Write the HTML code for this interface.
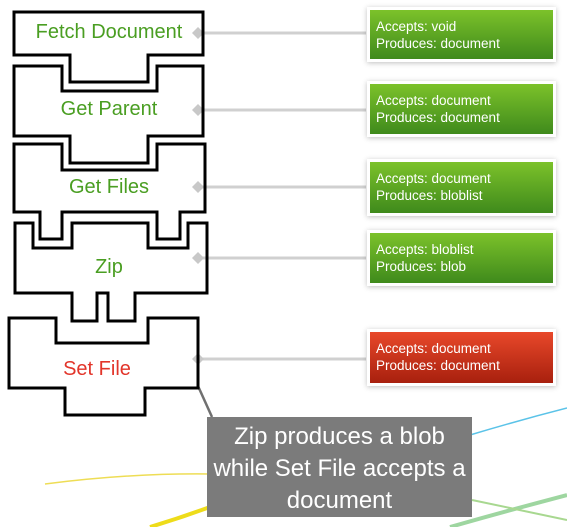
<!DOCTYPE html>
<html><head><meta charset="utf-8"><style>
html,body{margin:0;padding:0;background:#fff;width:567px;height:527px;overflow:hidden;position:relative;font-family:"Liberation Sans",sans-serif}
.t{position:absolute;font-size:20px;text-align:center;color:#4a9e22;width:190px}
.b{position:absolute;left:370px;width:183px;box-sizing:border-box;padding:8px 0 0 6px;font-size:13.5px;line-height:17px;color:#fff;background:linear-gradient(#7cc22a,#3f8a1c);box-shadow:0 0 0 3px #fff,0 1px 5px 3px rgba(0,0,0,.25)}
.r{background:linear-gradient(#e8482a,#a8200e)}
.c{position:absolute;left:207px;top:417px;width:265px;height:100px;background:#7b7b7b;color:#fff;font-size:24px;line-height:32px;text-align:center;padding-top:4px;box-sizing:border-box}
</style></head><body>
<svg width="567" height="527" style="position:absolute;left:0;top:0">
<path d="M470 435 Q520 420 567 408" stroke="#5bc3e8" stroke-width="1.5" fill="none"/>
<path d="M45 484 Q130 473 210 474" stroke="#eedd55" stroke-width="1.5" fill="none"/>
<path d="M150 527 Q180 518 210 507" stroke="#eedc1a" stroke-width="4" fill="none"/>
<path d="M450 527 Q510 510 567 495" stroke="#9ed6a0" stroke-width="4" fill="none"/>
<path d="M472 500 Q520 510 567 520" stroke="#a8d890" stroke-width="2" fill="none"/>
<g stroke="#d0d0d0" stroke-width="3">
<line x1="198" y1="33" x2="366" y2="33"/><line x1="198" y1="110" x2="366" y2="110"/>
<line x1="198" y1="187" x2="366" y2="187"/><line x1="198" y1="258" x2="366" y2="258"/>
<line x1="198" y1="359" x2="366" y2="359"/></g>
<g fill="#c8c8c8"><path d="M192 33l6-6 6 6-6 6z"/><path d="M192 110l6-6 6 6-6 6z"/><path d="M192 187l6-6 6 6-6 6z"/><path d="M192 258l6-6 6 6-6 6z"/><path d="M192 359l6-6 6 6-6 6z"/></g>
<line x1="198" y1="386" x2="212" y2="417" stroke="#707070" stroke-width="2.5"/>
<g fill="none" stroke="#000" stroke-width="3" stroke-linejoin="miter">
<path d="M14 12H203V55H148V82H70V55H14Z"/>
<path d="M14 66H62V91H157V66H203V136H148V163H70V136H14Z"/>
<path d="M14 144H62V170H157V144H205V212H180V239H157V212H62V239H40V212H14Z"/>
<path d="M15 223H33V248H72V223H148V248H188V223H207V293H135V321H108V293H97V321H72V293H15Z"/>
<path d="M9 318H56V343H148V318H198V388H145V415H65V388H9Z"/>
</g></svg>
<div class="t" style="left:14px;top:21px">Fetch Document</div>
<div class="t" style="left:14px;top:98px">Get Parent</div>
<div class="t" style="left:14px;top:176px">Get Files</div>
<div class="t" style="left:14px;top:256px">Zip</div>
<div class="t" style="left:2px;top:358px;color:#e2352a">Set File</div>
<div class="b" style="top:10px;height:49px">Accepts: void<br>Produces: document</div>
<div class="b" style="top:84px;height:50px">Accepts: document<br>Produces: document</div>
<div class="b" style="top:162px;height:51px">Accepts: document<br>Produces: bloblist</div>
<div class="b" style="top:233px;height:50px">Accepts: bloblist<br>Produces: blob</div>
<div class="b r" style="top:332px;height:51px">Accepts: document<br>Produces: document</div>
<div class="c">Zip produces a blob<br>while Set File accepts a<br>document</div>
</body></html>
